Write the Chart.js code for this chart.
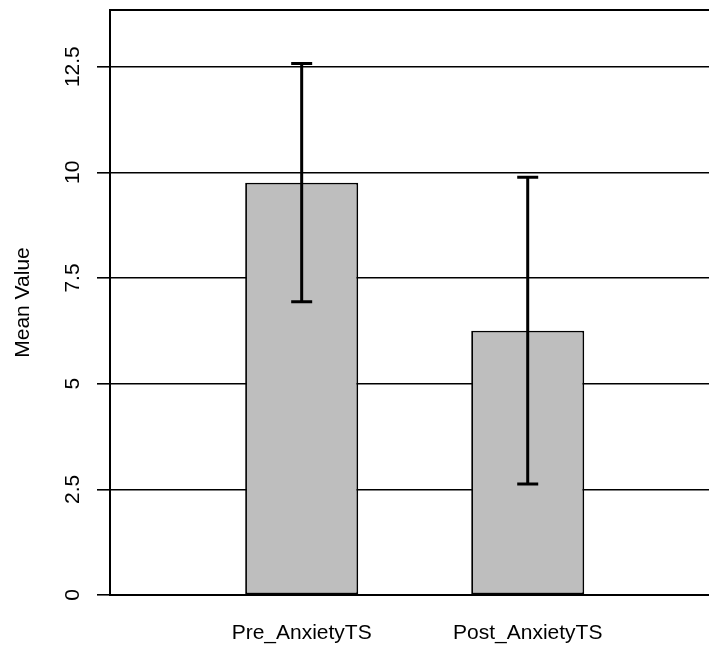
<!DOCTYPE html>
<html><head><meta charset="utf-8">
<script src="https://cdn.jsdelivr.net/npm/chart.js@4/dist/chart.umd.min.js"></script>
<style>html,body{margin:0;padding:0;background:#fff;overflow:hidden}#wrap{width:709px;height:648px;position:relative}</style>
</head><body><div id="wrap"><canvas id="c" width="709" height="648"></canvas></div>
<script>
// ---- data ----
const categories = ['Pre_AnxietyTS', 'Post_AnxietyTS'];
const categoryIndex = [1, 2];
const means = [9.755, 6.254];
const errors = [2.82, 3.63];
const yTicks = [0, 2.5, 5, 7.5, 10, 12.5];
const yTickLabels = ['0', '2.5', '5', '7.5', '10', '12.5'];
const yLabel = 'Mean Value';
const xRange = [0.152, 2.802];
const yRange = [0, 13.84];

const FONT = '"Liberation Sans", Arial, Helvetica, sans-serif';
const FS = 21;

const errorBars = {
  id: 'errorBars',
  afterDatasetsDraw(chart) {
    const meta = chart.getDatasetMeta(0);
    const ys = chart.scales.y;
    const ctx = chart.ctx;
    ctx.save();
    ctx.strokeStyle = '#000';
    ctx.lineWidth = 3;
    meta.data.forEach((bar, i) => {
      const x = bar.x;
      const hi = ys.getPixelForValue(means[i] + errors[i]);
      const lo = ys.getPixelForValue(means[i] - errors[i]);
      ctx.beginPath();
      ctx.moveTo(x, hi); ctx.lineTo(x, lo);
      ctx.moveTo(x - 10.5, hi); ctx.lineTo(x + 10.5, hi);
      ctx.moveTo(x - 10.5, lo); ctx.lineTo(x + 10.5, lo);
      ctx.stroke();
    });
    ctx.restore();
  }
};

new Chart(document.getElementById('c'), {
  type: 'bar',
  data: {
    datasets: [{
      data: categoryIndex.map((x, i) => ({x: x, y: means[i]})),
      backgroundColor: '#bebebe',
      borderColor: '#000',
      borderWidth: 1.8,
      borderSkipped: false,
      categoryPercentage: 1,
      barPercentage: 0.5,
      xAxisID: 'x',
      yAxisID: 'y'
    }]
  },
  options: {
    responsive: false,
    devicePixelRatio: 1,
    animation: false,
    layout: {padding: 0},
    plugins: {legend: {display: false}, tooltip: {enabled: false}},
    scales: {
      x: {
        type: 'linear', position: 'bottom', min: xRange[0], max: xRange[1], offset: false,
        afterBuildTicks: s => { s.ticks = categoryIndex.map(v => ({value: v})); },
        afterFit: s => { s.height = 53; s.paddingLeft = 0; s.paddingRight = 0; },
        grid: {display: false, drawTicks: false, offset: false},
        border: {display: true, color: '#000', width: 2},
        ticks: {
          callback: (v, i) => categories[i],
          padding: 26, maxRotation: 0, minRotation: 0, autoSkip: false,
          color: '#000', font: {family: FONT, size: FS}
        }
      },
      x2: {
        type: 'linear', position: 'top', min: 0, max: 1, offset: false,
        afterFit: s => { s.height = 10; s.paddingLeft = 0; s.paddingRight = 0; },
        grid: {display: false, drawTicks: false},
        ticks: {display: false},
        border: {display: true, color: '#000', width: 2}
      },
      y: {
        type: 'linear', position: 'left', min: yRange[0], max: yRange[1],
        afterBuildTicks: s => { s.ticks = yTicks.map(v => ({value: v})); },
        afterFit: s => { s.width = 110; s.paddingTop = 0; s.paddingBottom = 0; },
        grid: {color: '#000', lineWidth: 1.6, drawTicks: true, tickLength: 13},
        border: {display: true, color: '#000', width: 2},
        ticks: {
          callback: (v, i) => yTickLabels[i],
          minRotation: 90, maxRotation: 90, crossAlign: 'center', padding: 3,
          color: '#000', font: {family: FONT, size: FS}
        },
        title: {
          display: true, text: yLabel, color: '#000',
          font: {family: FONT, size: FS}, padding: {top: 11, bottom: 0}
        }
      }
    }
  },
  plugins: [errorBars]
});
</script>
</body></html>
